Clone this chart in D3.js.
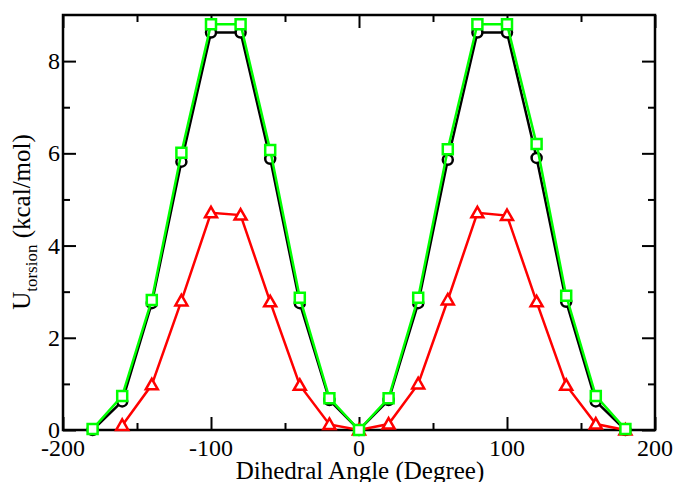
<!doctype html>
<html>
<head>
<script src="https://cdn.jsdelivr.net/npm/d3@7"></script>
<style>
  body { margin: 0; background: #fff; }
  text { font-family: "Liberation Serif", "Times New Roman", serif; }
</style>
</head>
<body>
<div id="chart"></div>
<script>
// dihedral angles (degrees)
var angles = [-180, -160, -140, -120, -100, -80, -60, -40, -20, 0, 20, 40, 60, 80, 100, 120, 140, 160, 180];
// black circles
var seriesBlack = [0.0, 0.62, 2.75, 5.82, 8.62, 8.62, 5.88, 2.75, 0.65, 0.0, 0.65, 2.75, 5.86, 8.62, 8.62, 5.9, 2.78, 0.62, 0.0];
// red triangles (no point at -180)
var redAngles = [-160, -140, -120, -100, -80, -60, -40, -20, 0, 20, 40, 60, 80, 100, 120, 140, 160, 180];
var seriesRed = [0.1, 0.98, 2.8, 4.71, 4.66, 2.78, 0.97, 0.12, 0.0, 0.13, 1.0, 2.82, 4.71, 4.65, 2.78, 0.97, 0.13, 0.0];
// green squares
var seriesGreen = [0.02, 0.74, 2.82, 6.01, 8.8, 8.8, 6.07, 2.87, 0.69, 0.0, 0.69, 2.87, 6.09, 8.8, 8.8, 6.2, 2.91, 0.74, 0.02];

var xTicks = [-200, -100, 0, 100, 200];
var xMinor = [-150, -50, 50, 150];
var yTicks = [0, 2, 4, 6, 8];
var yMinor = [1, 3, 5, 7];

(function() {
  var W = 675, H = 482;
  var pL = 63, pR = 655, pT = 15, pB = 430;

  var svg = d3.select("#chart").append("svg")
    .attr("width", W).attr("height", H);

  var x = d3.scaleLinear().domain([-200, 200]).range([pL, pR]);
  var y = d3.scaleLinear().domain([0, 9]).range([pB, pT]);

  // ticks on all four sides, pointing in
  function ticks(mk, offset) {
    var g = svg.append("g").attr("transform", offset);
    g.call(mk().tickValues(minorOf(mk)).tickSize(-7).tickFormat(""));
    g.select(".domain").remove();
    var g2 = svg.append("g").attr("transform", offset);
    g2.call(mk().tickValues(majorOf(mk)).tickSize(-13).tickFormat(""));
    g2.select(".domain").remove();
  }
  var isX = function(mk) { return mk().scale() === x; };
  var minorOf = function(mk) { return isX(mk) ? xMinor : yMinor; };
  var majorOf = function(mk) { return isX(mk) ? xTicks : yTicks; };

  ticks(function() { return d3.axisBottom(x); }, "translate(0," + pB + ")");
  ticks(function() { return d3.axisTop(x); }, "translate(0," + pT + ")");
  ticks(function() { return d3.axisLeft(y); }, "translate(" + pL + ",0)");
  ticks(function() { return d3.axisRight(y); }, "translate(" + pR + ",0)");
  svg.selectAll(".tick line").attr("stroke", "#000").attr("stroke-width", 2);

  // frame
  svg.append("rect")
    .attr("x", pL).attr("y", pT)
    .attr("width", pR - pL).attr("height", pB - pT)
    .attr("fill", "none").attr("stroke", "#000").attr("stroke-width", 2.5);

  // tick labels
  svg.selectAll(".xlab").data(xTicks).enter().append("text")
    .attr("x", function(d) { return x(d); })
    .attr("y", 456)
    .attr("text-anchor", "middle")
    .attr("font-size", 24)
    .text(function(d) { return d; });

  svg.selectAll(".ylab").data(yTicks).enter().append("text")
    .attr("x", 60)
    .attr("y", function(d) { return y(d) + 8; })
    .attr("text-anchor", "end")
    .attr("font-size", 24)
    .text(function(d) { return d; });

  // axis titles
  svg.append("text")
    .attr("x", 360).attr("y", 479)
    .attr("text-anchor", "middle")
    .attr("font-size", 25)
    .text("Dihedral Angle (Degree)");

  var yt = svg.append("text")
    .attr("transform", "translate(30,222) rotate(-90)")
    .attr("text-anchor", "middle")
    .attr("font-size", 25);
  yt.append("tspan").text("U");
  yt.append("tspan").attr("font-size", 17).attr("dy", 7).text("torsion");
  yt.append("tspan").attr("dy", -7).text(" (kcal/mol)");

  var line = d3.line()
    .x(function(d) { return x(d[0]); })
    .y(function(d) { return y(d[1]); });

  function series(xs, ys, color, shape) {
    var pts = xs.map(function(a, i) { return [a, ys[i]]; });
    svg.append("path").datum(pts)
      .attr("d", line)
      .attr("fill", "none").attr("stroke", color).attr("stroke-width", 2.5);
    var m = svg.append("g").selectAll("path").data(pts).enter().append("path")
      .attr("transform", function(d) { return "translate(" + x(d[0]) + "," + y(d[1]) + ")"; })
      .attr("fill", "#fff").attr("stroke", color).attr("stroke-width", 2.5);
    if (shape === "circle") m.attr("d", "M5,0A5,5 0 1,1 -5,0A5,5 0 1,1 5,0Z");
    if (shape === "square") m.attr("d", "M-5,-5H5V5H-5Z");
    if (shape === "triangle") m.attr("d", "M0,-6L6,4.5H-6Z");
  }

  series(angles, seriesBlack, "#000", "circle");
  series(redAngles, seriesRed, "#ff0000", "triangle");
  series(angles, seriesGreen, "#00ff00", "square");
})();
</script>
</body>
</html>
